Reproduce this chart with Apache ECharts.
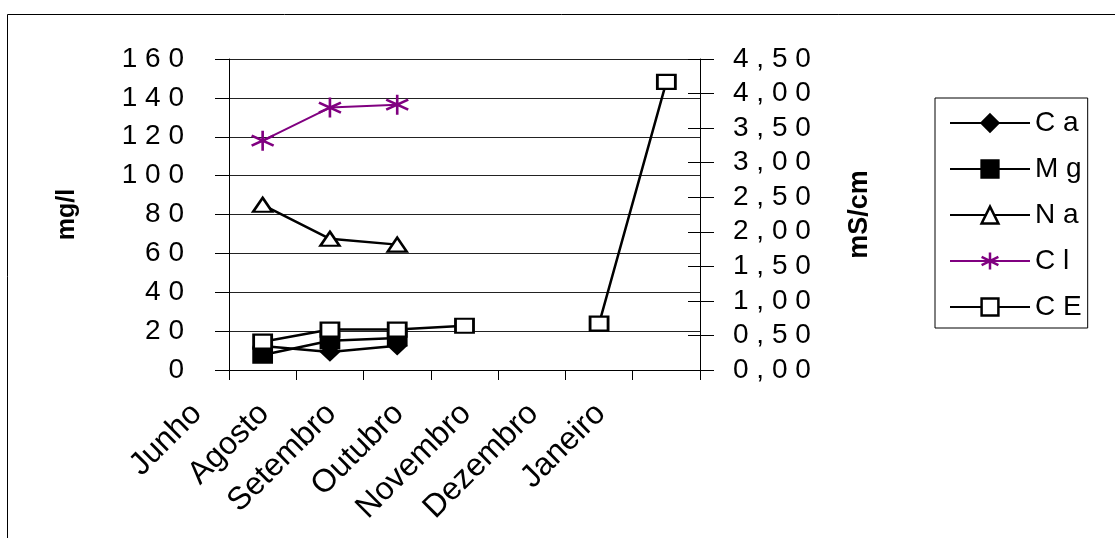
<!DOCTYPE html>
<html>
<head>
<meta charset="utf-8">
<script src="https://cdn.jsdelivr.net/npm/echarts@6/dist/echarts.min.js"></script>
<style>html,body{margin:0;padding:0;background:#fff;}#c{width:1115px;height:538px;}</style>
</head>
<body>
<div id="c"></div>
<script>
const categories = ['Junho', 'Agosto', 'Setembro', 'Outubro', 'Novembro', 'Dezembro', 'Janeiro'];
const ca = [12.3, 9.3, 12.5, null, null, null, null];
const mg = [7.7, 15, 16.5, null, null, null, null];
const na = [85, 67.5, 64.5, null, null, null, null];
const cl = [118, 135, 136.5, null, null, null, null];
const ce = [0.41, 0.585, 0.585, 0.64, null, 0.67, 4.17];
const seriesNames = ['Ca', 'Mg', 'Na', 'Cl', 'CE'];

const FONT = 'Liberation Sans, Arial, sans-serif';
const spaced = s => String(s).split('').join(' ');
const starPath = 'path://M10,0L10,20M1.34,5L18.66,15M1.34,15L18.66,5';

const chart = echarts.init(document.getElementById('c'), null, {renderer: 'canvas'});
const mk = (name, data, symbol, size, color, fill, yIdx, lw) => ({
  name, type: 'line', data, yAxisIndex: yIdx, symbol, symbolSize: size,
  connectNulls: false, animation: false,
  lineStyle: {color, width: lw},
  itemStyle: {color: fill, borderColor: color, borderWidth: 2.5},
  emphasis: {disabled: true}
});
chart.setOption({
  animation: false,
  textStyle: {fontFamily: FONT},
  graphic: [{type: 'rect', shape: {x: 7.5, y: 14.5, width: 1200, height: 600}, style: {fill: 'none', stroke: '#000', lineWidth: 1}, silent: true}],
  grid: {left: 229, right: 415, top: 59, bottom: 168},
  legend: {
    orient: 'vertical', left: 935, top: 98,
    data: seriesNames,
    itemWidth: 80, itemHeight: 21, itemGap: 16,
    itemStyle: {borderWidth: 2.5},
    borderColor: '#000', borderWidth: 1, padding: [10, 6, 6, 14],
    formatter: n => spaced(n),
    textStyle: {fontSize: 28, color: '#000', fontFamily: FONT, lineHeight: 30}
  },
  xAxis: {
    type: 'category', data: categories, boundaryGap: true,
    axisLine: {lineStyle: {color: '#000', width: 1}},
    axisTick: {show: true, length: 10, lineStyle: {color: '#000'}},
    axisLabel: {rotate: 45, interval: 0, fontSize: 32, color: '#000', fontFamily: FONT, margin: -27, padding: [0, 93, 0, 0]},
    splitLine: {show: false}
  },
  yAxis: [
    {
      type: 'value', min: 0, max: 160, interval: 20, position: 'left',
      name: 'mg/l', nameLocation: 'middle', nameRotate: 90, nameGap: 162,
      nameTextStyle: {fontSize: 25, fontWeight: 'bold', color: '#000', fontFamily: FONT, verticalAlign: 'middle'},
      axisLine: {show: true, lineStyle: {color: '#000', width: 1}},
      axisTick: {show: true, length: 14, lineStyle: {color: '#000'}},
      axisLabel: {fontSize: 28, color: '#000', fontFamily: FONT, margin: 45, formatter: v => spaced(v)},
      splitLine: {show: true, lineStyle: {color: '#222', width: 1}}
    },
    {
      type: 'value', min: 0, max: 4.5, interval: 0.5, position: 'right',
      name: 'mS/cm', nameLocation: 'middle', nameRotate: 90, nameGap: 160,
      nameTextStyle: {fontSize: 27, fontWeight: 'bold', color: '#000', fontFamily: FONT, verticalAlign: 'middle'},
      axisLine: {show: true, lineStyle: {color: '#000', width: 1}},
      axisTick: {show: true, length: 14, lineStyle: {color: '#000'}},
      axisLabel: {fontSize: 28, color: '#000', fontFamily: FONT, margin: 33, formatter: v => spaced(v.toFixed(2).replace('.', ','))},
      splitLine: {show: false}
    },
    {
      type: 'value', min: 0, max: 4.5, interval: 0.5, position: 'right',
      axisLine: {show: false},
      axisTick: {show: true, inside: true, length: 12, lineStyle: {color: '#000'}},
      axisLabel: {show: false},
      splitLine: {show: false}
    }
  ],
  series: [
    mk('Ca', ca, 'diamond', [17, 16], '#000', '#000', 0, 2.5),
    mk('Mg', mg, 'rect', [18, 15], '#000', '#000', 0, 2.5),
    mk('Na', na, 'triangle', [19, 14], '#000', '#fff', 0, 2.5),
    Object.assign(mk('Cl', cl, starPath, [22, 20], '#800080', 'none', 0, 2), {itemStyle: {color: 'none', borderColor: '#800080', borderWidth: 2.5}}),
    mk('CE', ce, 'rect', [18, 14], '#000', '#fff', 1, 2.5)
  ]
});
</script>
</body>
</html>
